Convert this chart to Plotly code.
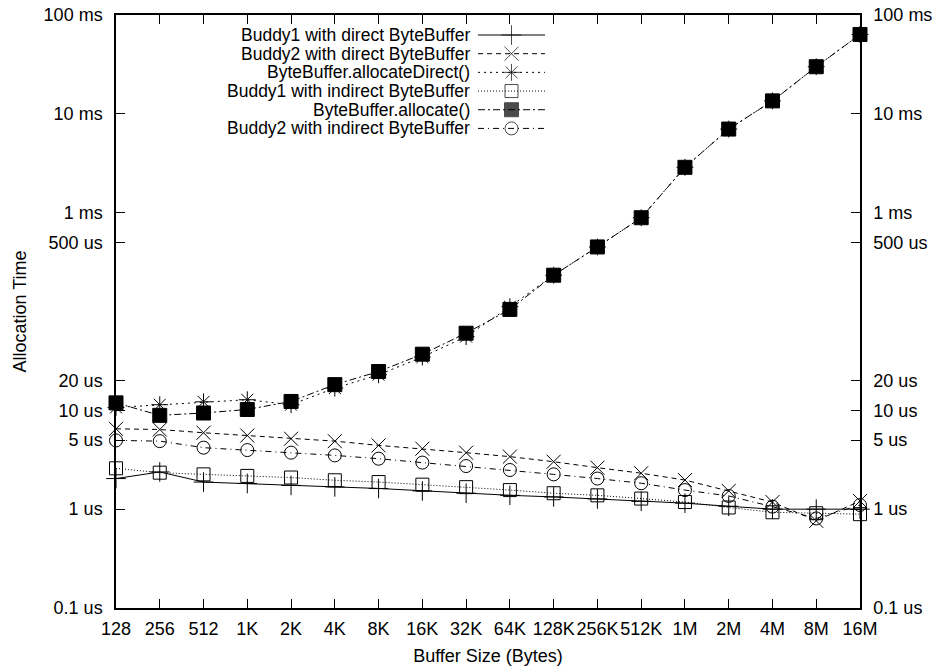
import plotly.graph_objects as go

sizes = ["128", "256", "512", "1K", "2K", "4K", "8K", "16K", "32K", "64K",
         "128K", "256K", "512K", "1M", "2M", "4M", "8M", "16M"]

# allocation times in microseconds
buddy1_direct = [2.04, 2.38, 1.88, 1.82, 1.74, 1.68, 1.62, 1.53, 1.45, 1.38,
                 1.33, 1.27, 1.20, 1.15, 1.07, 1.00, 1.00, 1.00]
buddy2_direct = [6.5, 6.4, 5.93, 5.56, 5.16, 4.88, 4.42, 4.09, 3.73, 3.40,
                 3.02, 2.63, 2.31, 1.97, 1.53, 1.18, 0.762, 1.21]
alloc_direct = [10.7, 11.4, 12.2, 12.8, 11.4, 16.8, 22.9, 34.6, 55.7, 112,
                233, 450, 889, 2877, 7015, 13520, 29970, 63530]
buddy1_indirect = [2.59, 2.34, 2.25, 2.17, 2.09, 1.96, 1.88, 1.77, 1.67, 1.56,
                   1.45, 1.38, 1.28, 1.18, 1.04, 0.93, 0.91, 0.89]
alloc_heap = [11.9, 8.9, 9.4, 10.2, 12.3, 18.2, 24.7, 37.0, 60.3, 105,
              233, 450, 889, 2877, 7015, 13520, 29970, 63530]
buddy2_indirect = [4.96, 4.88, 4.19, 3.96, 3.73, 3.50, 3.24, 2.96, 2.73, 2.49,
                   2.25, 2.04, 1.83, 1.56, 1.36, 1.06, 0.806, 1.10]

series_names = ["Buddy1 with direct ByteBuffer", "Buddy2 with direct ByteBuffer",
                "ByteBuffer.allocateDirect()", "Buddy1 with indirect ByteBuffer",
                "ByteBuffer.allocate()", "Buddy2 with indirect ByteBuffer"]
series_values = [buddy1_direct, buddy2_direct, alloc_direct, buddy1_indirect,
                 alloc_heap, buddy2_indirect]

y_tickvals = [0.1, 1, 5, 10, 20, 500, 1000, 10000, 100000]
y_ticktext = ["0.1 us", "1 us", "5 us", "10 us", "20 us", "500 us", "1 ms", "10 ms", "100 ms"]

styles = [
    dict(dash="solid", symbol="cross-thin-open", size=14),
    dict(dash="5px,4px", symbol="x-thin-open", size=14),
    dict(dash="2px,4px", symbol="asterisk-open", size=14),
    dict(dash="1px,2px", symbol="square-open", size=13),
    dict(dash="7px,3px,2px,3px", symbol="square", size=14),
    dict(dash="6px,4px,1px,4px", symbol="circle-open", size=13),
]

FONT = "Liberation Sans, Arial, sans-serif"
FS = 18

fig = go.Figure()
for name, vals, st in zip(series_names, series_values, styles):
    # the filled-square series sits on the overlaid right-hand axis (same scale)
    yax = "y2" if name == "ByteBuffer.allocate()" else "y"
    fig.add_trace(go.Scatter(
        x=sizes, y=vals, name=name, mode="lines+markers", cliponaxis=False,
        yaxis=yax,
        line=dict(color="black", width=1, dash=st["dash"]),
        marker=dict(symbol=st["symbol"], size=st["size"], color="black",
                    line=dict(color="black", width=1)),
        showlegend=False,
    ))

# gnuplot-style key: text right-aligned, sample to its right
for i, (name, st) in enumerate(zip(series_names, styles)):
    fig.add_trace(go.Scatter(
        x=[0, 0.5, 1], y=[i, i, i], xaxis="x3", yaxis="y3", mode="lines+markers",
        cliponaxis=False, showlegend=False, hoverinfo="skip",
        line=dict(color="black", width=1, dash=st["dash"]),
        marker=dict(symbol=st["symbol"], size=[0, st["size"], 0], color="black",
                    line=dict(color="black", width=1)),
    ))
    fig.add_annotation(x=0, y=i, xref="x3", yref="y3", text=name, showarrow=False,
                       xanchor="right", yanchor="middle", xshift=-6,
                       font=dict(family=FONT, size=17.5, color="black"))

axis_common = dict(showgrid=False, zeroline=False, showline=True, linecolor="black",
                   linewidth=1.5, ticks="inside", ticklen=9, tickcolor="black",
                   tickwidth=1, automargin=False,
                   tickfont=dict(family=FONT, size=FS, color="black"))

fig.update_layout(
    width=934, height=668,
    margin=dict(l=116, r=74, t=15, b=60),
    paper_bgcolor="white", plot_bgcolor="white",
    font=dict(family=FONT, size=FS, color="black"),
    xaxis=dict(type="category", range=[0, 17], mirror="ticks", tickangle=0,
               title=dict(text="Buffer Size (Bytes)", standoff=11,
                          font=dict(family=FONT, size=FS)),
               ticklabelstandoff=4, **axis_common),
    yaxis=dict(type="log", range=[-1, 5], tickvals=y_tickvals, ticktext=y_ticktext,
               mirror="ticks", ticklabelstandoff=8,
               title=dict(text="Allocation Time", standoff=12,
                          font=dict(family=FONT, size=FS)),
               **axis_common),
    yaxis2=dict(type="log", range=[-1, 5], tickvals=y_tickvals, ticktext=y_ticktext,
                overlaying="y", side="right", anchor="x", ticklabelstandoff=8,
                **axis_common),
    xaxis3=dict(domain=[0.4866, 0.5766], range=[0, 1], visible=False, anchor="y3"),
    yaxis3=dict(domain=[0.793, 0.982], range=[5.5, -0.5], visible=False, anchor="x3"),
)

fig.write_html("out.html")
